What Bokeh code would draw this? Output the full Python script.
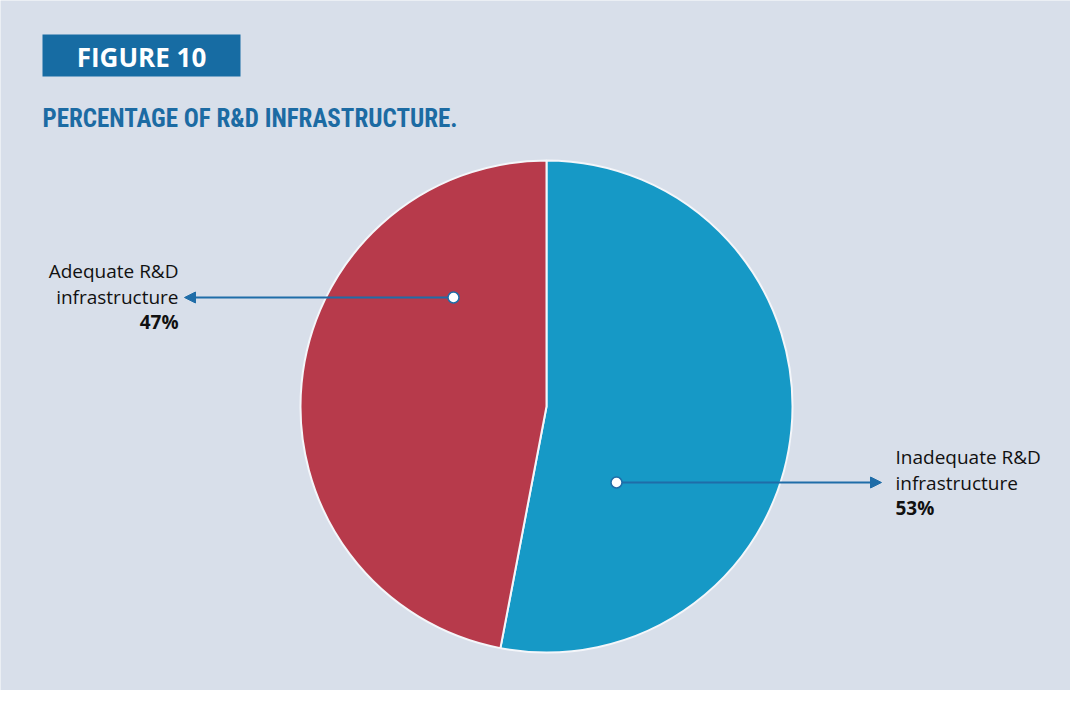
import numpy as np
from bokeh.plotting import figure
from bokeh.models import Range1d, Arrow, NormalHead, ColumnDataSource
from bokeh.core.properties import value
from bokeh.embed import file_html
from bokeh.resources import INLINE

# ---- data ----
categories = ["Inadequate R&D infrastructure", "Adequate R&D infrastructure"]
percent = [53, 47]
slice_colors = ["#1699c6", "#b73a4b"]
label_line1 = ["Inadequate R&D", "Adequate R&D"]
label_line2 = ["infrastructure", "infrastructure"]
label_pct = ["53%", "47%"]
figure_tag = "FIGURE 10"
title_text = "PERCENTAGE OF R&D INFRASTRUCTURE."

W, H = 1070, 690
BG = "#d8dfea"
BLUE_DARK = "#176ca3"

p = figure(width=W, height=H, output_backend="svg", toolbar_location=None,
           x_range=Range1d(0, W), y_range=Range1d(0, H), min_border=0)
p.axis.visible = False
p.grid.visible = False
p.outline_line_color = None
p.background_fill_color = BG
p.border_fill_color = BG

def Y(ry):
    return H - ry

# pie geometry
cx, cy, R = 546, Y(406), 246
vals = np.array(percent, dtype=float)
frac = vals / vals.sum()
cum = np.concatenate([[0], np.cumsum(frac)])
start = np.pi / 2 - 2 * np.pi * cum[:-1]
end = np.pi / 2 - 2 * np.pi * cum[1:]
src = ColumnDataSource(dict(cat=categories, start=start, end=end, color=slice_colors))
p.wedge(x=cx, y=cy, radius=R, start_angle="start", end_angle="end",
        direction="clock", fill_color="color", line_color="#f4f6fa", line_width=2,
        source=src)

# callouts
arrow_col = "#1f6da8"
p.add_layout(Arrow(end=NormalHead(size=11, fill_color=arrow_col, line_color=arrow_col),
                   x_start=616, y_start=Y(482), x_end=881, y_end=Y(482),
                   line_color=arrow_col, line_width=2))
p.add_layout(Arrow(end=NormalHead(size=11, fill_color=arrow_col, line_color=arrow_col),
                   x_start=453, y_start=Y(297), x_end=184, y_end=Y(297),
                   line_color=arrow_col, line_width=2))
p.scatter(x=[616, 453], y=[Y(482), Y(297)], size=11, fill_color="white",
          line_color=arrow_col, line_width=1.5, level="overlay")

font = value("Open Sans")
fs = "19px"
ink = "#111111"
# right label
p.text(x=[895, 895], y=[Y(456), Y(482)], text=[label_line1[0], label_line2[0]],
       text_font=font, text_font_size=fs, text_color=ink,
       text_align="left", text_baseline="middle")
p.text(x=[895], y=[Y(507)], text=[label_pct[0]], text_font=font, text_font_size=fs,
       text_font_style="bold", text_color=ink, text_align="left",
       text_baseline="middle")
# left label
p.text(x=[178, 178], y=[Y(270), Y(296)], text=[label_line1[1], label_line2[1]],
       text_font=font, text_font_size=fs, text_color=ink,
       text_align="right", text_baseline="middle")
p.text(x=[178], y=[Y(321)], text=[label_pct[1]], text_font=font, text_font_size=fs,
       text_font_style="bold", text_color=ink, text_align="right",
       text_baseline="middle")

# figure tag box
p.quad(left=42, right=240, bottom=Y(76), top=Y(34), fill_color=BLUE_DARK, line_color=None)
p.text(x=[141], y=[Y(56)], text=[figure_tag], text_font=font, text_font_size="26px",
       text_font_style="bold", text_color="white", text_align="center",
       text_baseline="middle")

# title
p.text(x=[42], y=[Y(118)], text=[title_text],
       text_font=value("'Roboto Condensed', 'DejaVu Sans Condensed'"),
       text_font_size="25px", text_font_style="bold", text_color="#1c6ba3",
       text_align="left", text_baseline="middle")

open("out.html", "w").write(file_html(p, INLINE))
